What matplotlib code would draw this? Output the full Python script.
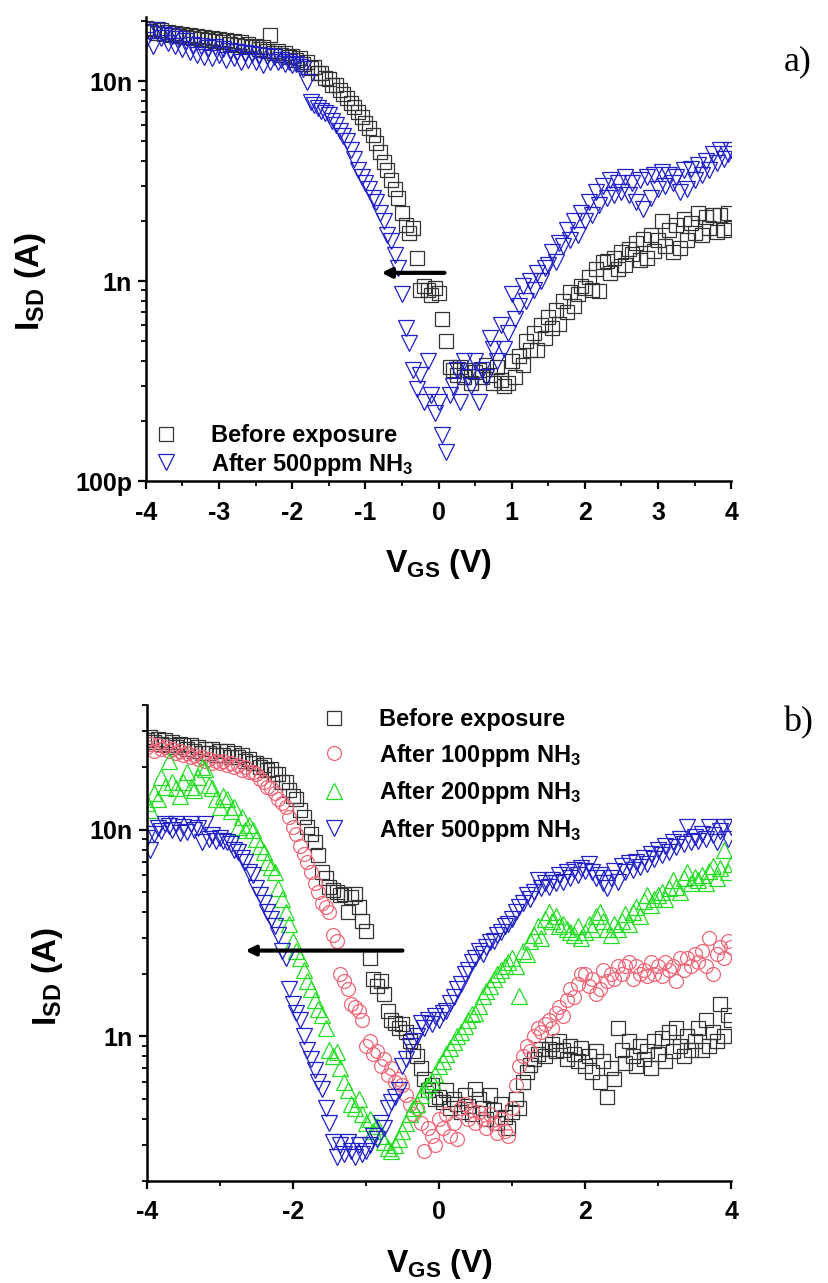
import numpy as np
import matplotlib
matplotlib.use("Agg")
import matplotlib.pyplot as plt
from matplotlib.ticker import FixedLocator, LogLocator, NullFormatter, MultipleLocator

plt.rcParams['font.family'] = ['Liberation Sans', 'DejaVu Sans']
plt.rcParams['mathtext.fontset'] = 'custom'
plt.rcParams['mathtext.rm'] = 'Liberation Sans:bold'
plt.rcParams['mathtext.bf'] = 'Liberation Sans:bold'
plt.rcParams['mathtext.default'] = 'bf'
plt.rcParams['axes.unicode_minus'] = False

# gate voltage sweep: -4 V .. 4 V in 0.05 V steps (161 points)
v_gs = np.round(np.arange(161) * 0.05 - 4.0, 2)

# ---- panel a) source-drain current in nA, rows of 10 points (0.5 V each) ----
a_before = [
    18.5, 17.8, 18.2, 17.5, 18.0, 17.2, 17.6, 17.0, 17.4, 16.8,   # -4.0
    17.2, 16.6, 17.0, 16.5, 16.8, 16.2, 16.6, 16.0, 16.4, 15.8,   # -3.5
    16.2, 15.6, 16.0, 15.4, 15.8, 15.2, 15.6, 15.0, 15.4, 14.8,   # -3.0
    15.0, 14.5, 14.8, 14.2, 17.0, 13.8, 14.2, 13.5, 13.8, 13.2,   # -2.5
    13.4, 12.8, 13.0, 12.2, 12.4, 11.6, 11.8, 11.0, 11.0, 10.4,   # -2.0
    10.2, 9.6, 9.6, 9.0, 8.6, 8.2, 7.8, 7.4, 7.0, 6.6,            # -1.5
    6.2, 5.8, 5.4, 4.9, 4.4, 3.95, 3.6, 3.2, 2.9, 2.6,            # -1.0
    2.2, 1.9, 1.75, 1.85, 1.3, 0.9, 0.95, 0.9, 0.85, 0.92,        # -0.5
    0.87, 0.65, 0.50, 0.37, 0.36, 0.34, 0.37, 0.33, 0.36, 0.31,   # 0.0
    0.35, 0.36, 0.33, 0.38, 0.34, 0.31, 0.37, 0.32, 0.30, 0.31,   # 0.5
    0.40, 0.33, 0.42, 0.38, 0.50, 0.45, 0.55, 0.45, 0.60, 0.52,   # 1.0
    0.66, 0.58, 0.72, 0.61, 0.80, 0.70, 0.88, 0.75, 0.86, 0.95,   # 1.5
    0.92, 1.05, 0.90, 1.15, 0.89, 1.25, 1.26, 1.10, 1.30, 1.15,   # 2.0
    1.40, 1.20, 1.45, 1.36, 1.55, 1.28, 1.62, 1.30, 1.70, 1.42,   # 2.5
    1.60, 2.00, 1.50, 1.80, 1.40, 1.90, 1.46, 2.05, 1.60, 1.95,   # 3.0
    1.75, 2.20, 1.70, 2.10, 1.85, 2.15, 1.77, 2.15, 1.80, 2.20,   # 3.5
    1.85]
a_after500 = [
    16.0, 17.5, 15.0, 18.0, 16.5, 17.0, 15.5, 16.8, 15.0, 16.2,
    14.5, 15.8, 14.0, 15.2, 13.5, 15.0, 13.2, 14.6, 13.0, 14.8,
    13.5, 14.4, 12.8, 14.2, 13.0, 14.0, 12.5, 13.8, 12.8, 13.6,
    12.4, 13.5, 12.0, 13.4, 12.5, 13.2, 12.4, 12.8, 12.2, 12.4,
    12.0, 12.2, 11.8, 11.5, 9.9, 7.9, 7.6, 7.3, 7.1, 6.9,
    6.8, 6.3, 6.0, 5.6, 5.3, 5.0, 4.5, 4.1, 3.6, 3.3,
    3.1, 2.9, 2.6, 2.5, 2.2, 2.0, 1.7, 1.58, 1.35, 1.16,
    0.86, 0.58, 0.49, 0.36, 0.29, 0.34, 0.25, 0.40, 0.27, 0.22,
    0.25, 0.17, 0.14, 0.27, 0.30, 0.36, 0.25, 0.40, 0.33, 0.30,
    0.40, 0.25, 0.36, 0.33, 0.52, 0.46, 0.40, 0.60, 0.46, 0.55,
    0.86, 0.65, 0.75, 0.95, 0.80, 1.00, 0.90, 1.10, 1.00, 1.16,
    1.20, 1.40, 1.25, 1.55, 1.50, 1.80, 1.60, 2.00, 1.71, 2.20,
    2.00, 2.50, 2.15, 2.80, 2.40, 3.00, 2.60, 3.20, 2.70, 3.10,
    2.80, 3.30, 2.70, 3.10, 2.50, 3.20, 2.30, 3.30, 2.60, 3.40,
    2.90, 3.50, 3.00, 3.40, 3.10, 3.30, 2.80, 3.60, 2.90, 3.65,
    3.20, 3.80, 3.40, 4.00, 3.60, 4.30, 3.90, 4.50, 4.10, 4.30,
    4.5]

# ---- panel b) ----
b_before = [
    27, 28, 26.5, 27.5, 26, 27, 25.5, 26.5, 25, 26,
    25.5, 24.5, 25.5, 24, 25, 23.5, 24.5, 23.5, 24.5, 23,
    24, 23, 24, 22.5, 23.5, 22.5, 23, 21.5, 22, 21,
    21, 20, 20.5, 19.5, 19.7, 18.5, 18.5, 17, 17, 15.5,
    14.6, 14, 12.5, 11.5, 10.3, 9.5, 8.7, 7.5, 6.2, 5.8,
    5.3, 5.1, 5.0, 4.8, 4.9, 4.0, 4.7, 4.9, 4.2, 3.6,
    3.25, 2.4, 1.9, 1.75, 1.86, 1.6, 1.32, 1.2, 1.16, 1.1,
    1.15, 1.05, 0.95, 0.85, 0.8, 0.7, 0.62, 0.55, 0.58, 0.5,
    0.51, 0.48, 0.55, 0.45, 0.5, 0.47, 0.43, 0.52, 0.46, 0.42,
    0.56, 0.5, 0.45, 0.4, 0.52, 0.44, 0.38, 0.47, 0.41, 0.36,
    0.43, 0.5, 0.45, 0.6, 0.67, 0.73, 0.78, 0.82, 0.87, 0.8,
    0.87, 0.92, 0.85, 0.95, 0.86, 0.78, 0.9, 0.82, 0.76, 0.88,
    0.72, 0.8, 0.67, 0.85, 0.6, 0.76, 0.51, 0.7, 0.62, 1.1,
    0.86, 0.74, 0.95, 0.8, 0.72, 0.9, 0.78, 0.85, 0.7, 0.95,
    0.82, 0.98, 0.76, 1.05, 0.85, 1.1, 0.9, 0.8, 1.0, 0.86,
    0.95, 1.1, 0.86, 1.2, 0.9, 1.05, 0.95, 1.44, 1.0, 1.27,
    1.2]
b_after100 = [
    25, 26, 24, 25.5, 24.5, 25, 24, 24.5, 23.5, 24,
    23, 23.5, 22.5, 23, 22, 22.5, 21.5, 22, 21, 21.5,
    21, 21.5, 20.5, 21, 20, 20.5, 19.5, 20, 19, 19,
    18.5, 17.5, 17, 16, 15.9, 15, 14, 13.5, 12.8, 11.5,
    10.3, 9.5, 8.3, 7.6, 7.0, 6.2, 5.5, 5.0, 4.4, 4.2,
    4.0, 3.1, 2.9, 2.0, 1.86, 1.7, 1.44, 1.38, 1.32, 1.2,
    0.9, 0.95, 0.82, 0.85, 0.72, 0.78, 0.65, 0.7, 0.6, 0.62,
    0.58, 0.52, 0.47, 0.42, 0.45, 0.38, 0.28, 0.36, 0.33, 0.3,
    0.40, 0.36, 0.42, 0.33, 0.38, 0.32, 0.45, 0.47, 0.40, 0.44,
    0.38, 0.43, 0.40, 0.36, 0.42, 0.38, 0.34, 0.40, 0.35, 0.33,
    0.45, 0.58, 0.72, 0.80, 0.90, 0.85, 1.0, 1.1, 1.05, 1.15,
    1.2, 1.1, 1.3, 1.38, 1.25, 1.5, 1.7, 1.55, 1.8, 2.0,
    2.0, 1.75, 1.9, 1.6, 1.7, 2.1, 1.85, 2.0, 1.9, 2.2,
    2.0, 2.2, 2.3, 1.9, 2.2, 2.0, 2.1, 1.95, 2.3, 2.0,
    2.2, 1.95, 2.3, 2.1, 2.2, 1.86, 2.4, 2.1, 2.4, 2.2,
    2.5, 2.3, 2.6, 2.2, 3.0, 2.0, 2.5, 2.7, 2.4, 2.9,
    2.7]
b_after200 = [
    13.4, 12.5, 15, 14, 18, 16, 21.5, 17, 15.9, 14.5,
    17, 19, 16, 15.5, 18, 20, 19.7, 16.5, 15.9, 14,
    12.8, 14.5, 14.0, 12.3, 12.8, 10.3, 11.5, 10.0, 10.5, 9.9,
    9.0, 8.3, 7.8, 7.0, 6.6, 6.2, 5.2, 4.6, 4.0, 3.5,
    2.9, 2.6, 2.4, 2.1, 1.86, 1.7, 1.5, 1.35, 1.27, 1.1,
    0.86, 0.8, 0.84, 0.7, 0.6, 0.55, 0.47, 0.45, 0.5, 0.42,
    0.38, 0.4, 0.35, 0.37, 0.33, 0.31, 0.29, 0.28, 0.3, 0.32,
    0.35, 0.38, 0.42, 0.45, 0.47, 0.52, 0.56, 0.58, 0.61, 0.66,
    0.72, 0.76, 0.82, 0.88, 0.94, 1.0, 1.05, 1.12, 1.2, 1.28,
    1.3, 1.4, 1.57, 1.65, 1.75, 1.9, 2.0, 2.1, 2.2, 2.3,
    2.4, 2.2, 1.57, 2.6, 2.5, 2.9, 3.1, 3.4, 3.0, 3.7,
    4.0, 3.6, 3.8, 3.4, 3.5, 3.3, 3.2, 3.1, 3.4, 3.0,
    3.2, 3.5, 3.3, 3.8, 4.0, 3.6, 3.3, 3.1, 3.5, 3.3,
    3.6, 3.9, 3.5, 4.0, 4.2, 3.8, 4.5, 4.8, 4.3, 4.6,
    4.8, 5.0, 4.6, 5.2, 5.7, 5.3, 5.0, 5.8, 6.2, 5.5,
    5.9, 5.7, 6.0, 5.5, 6.3, 6.7, 5.8, 6.5, 8.0, 6.2,
    6.8]
b_after500 = [
    9.1, 8.0, 9.5, 10.2, 9.8, 10.6, 10.4, 10.0, 10.6, 9.6,
    10.3, 9.7, 10.6, 9.9, 10.2, 8.7, 10.6, 9.0, 9.4, 8.8,
    9.1, 8.8, 8.7, 8.5, 8.0, 7.8, 7.3, 7.0, 6.2, 6.0,
    5.2, 4.8, 4.4, 4.0, 3.7, 3.4, 3.1, 2.6, 2.4, 1.7,
    1.44, 1.3, 1.2, 1.0, 0.86, 0.78, 0.69, 0.6, 0.56, 0.45,
    0.38, 0.31, 0.26, 0.3, 0.27, 0.31, 0.28, 0.26, 0.3, 0.27,
    0.28, 0.3, 0.33, 0.32, 0.38, 0.36, 0.45, 0.48, 0.51, 0.55,
    0.72, 0.78, 0.9, 0.95, 1.0, 1.16, 1.1, 1.2, 1.15, 1.25,
    1.2, 1.3, 1.32, 1.45, 1.55, 1.7, 1.8, 2.0, 2.1, 2.3,
    2.4, 2.6, 2.5, 2.7, 2.85, 2.9, 3.1, 3.2, 3.4, 3.5,
    3.7, 4.0, 4.2, 4.4, 4.8, 4.6, 5.0, 5.7, 5.2, 5.5,
    5.3, 5.7, 5.5, 6.0, 5.6, 6.2, 5.8, 6.4, 6.0, 6.5,
    6.3, 6.8, 6.2, 5.8, 6.0, 5.5, 5.2, 5.8, 6.3, 5.6,
    6.7, 6.2, 6.9, 6.4, 7.0, 6.6, 7.3, 6.8, 7.6, 7.2,
    8.0, 7.5, 8.3, 7.8, 8.7, 8.2, 9.0, 8.5, 10.3, 8.7,
    9.2, 8.8, 9.5, 9.0, 10.3, 9.4, 8.7, 9.8, 10.3, 9.0,
    10.3]

for s in (a_before, a_after500, b_before, b_after100, b_after200, b_after500):
    assert len(s) == len(v_gs)

# arrows (V start, V end, current level)
arrow_a = (0.08, -0.78, 1.1e-9)
arrow_b = (-0.5, -2.65, 2.6e-9)

fig = plt.figure(figsize=(8.29, 12.83), dpi=100)
ax1 = fig.add_axes([0.176, 0.625, 0.706, 0.362])
ax2 = fig.add_axes([0.177, 0.0795, 0.705, 0.371])

nA = 1e-9
sty = dict(linestyle='none', markerfacecolor='none', markeredgewidth=0.9)

ax1.plot(v_gs, np.array(a_before) * nA, marker='s', ms=10, color='#333333',
         label='Before exposure', **sty)
ax1.plot(v_gs, np.array(a_after500) * nA, marker='v', ms=11.5, color='#2020c8',
         label='After 500ppm NH$_3$', **sty)

ax2.plot(v_gs, np.array(b_before) * nA, marker='s', ms=10, color='#333333',
         label='Before exposure', **sty)
ax2.plot(v_gs, np.array(b_after100) * nA, marker='o', ms=10, color='#ee6677',
         label='After 100ppm NH$_3$', **sty)
ax2.plot(v_gs, np.array(b_after200) * nA, marker='^', ms=11.5, color='#22dd22',
         label='After 200ppm NH$_3$', **sty)
ax2.plot(v_gs, np.array(b_after500) * nA, marker='v', ms=11.5, color='#2020c8',
         label='After 500ppm NH$_3$', **sty)

for ax, arr in ((ax1, arrow_a), (ax2, arrow_b)):
    ax.annotate('', xy=(arr[1], arr[2]), xytext=(arr[0], arr[2]),
                arrowprops=dict(arrowstyle='-|>', lw=3, color='black',
                                mutation_scale=14, shrinkA=0, shrinkB=0))

def style(ax, ylim, yticks, ylabels, xmajor, xminor, ylab_x):
    ax.set_yscale('log')
    ax.set_xlim(-4, 4)
    ax.set_ylim(*ylim)
    ax.yaxis.set_major_locator(FixedLocator(yticks))
    ax.set_yticklabels(ylabels)
    ax.yaxis.set_minor_locator(LogLocator(base=10, subs=np.arange(2, 10)))
    ax.yaxis.set_minor_formatter(NullFormatter())
    ax.xaxis.set_major_locator(MultipleLocator(xmajor))
    ax.xaxis.set_minor_locator(MultipleLocator(xminor))
    for sp in ('top', 'right'):
        ax.spines[sp].set_visible(False)
    for sp in ('left', 'bottom'):
        ax.spines[sp].set_linewidth(1.8)
    ax.tick_params(which='major', length=6, width=1.6, labelsize=18, pad=4)
    ax.tick_params(axis='x', which='major', pad=8)
    ax.tick_params(which='minor', length=3.5, width=1.3)
    for lab in ax.get_xticklabels() + ax.get_yticklabels():
        lab.set_fontweight('bold')
    ax.set_xlabel('V$_{GS}$ (V)', fontsize=23, fontweight='bold', labelpad=16)
    ax.set_ylabel('I$_{SD}$ (A)', fontsize=24, fontweight='bold')
    ax.yaxis.set_label_coords(ylab_x, 0.43)

style(ax1, (1e-10, 2.1e-8), [1e-10, 1e-9, 1e-8], ['100p', '1n', '10n'], 1, 0.5, -0.168)
style(ax2, (2e-10, 4e-8), [1e-9, 1e-8], ['1n', '10n'], 2, 1, -0.14)

leg_font = {'weight': 'bold', 'size': 17}
ax1.legend(loc='upper left', bbox_to_anchor=(0.015, 0.123), frameon=False,
           prop=leg_font, handlelength=1.0, handletextpad=1.4,
           labelspacing=0.15, borderpad=0, borderaxespad=0)
ax2.legend(loc='upper left', bbox_to_anchor=(0.30, 0.993), frameon=False,
           prop=leg_font, handlelength=1.0, handletextpad=1.4,
           labelspacing=0.44, borderpad=0, borderaxespad=0)

fig.text(0.945, 0.952, 'a)', fontsize=26, family='Liberation Serif', va='center')
fig.text(0.945, 0.437, 'b)', fontsize=26, family='Liberation Serif', va='center')

fig.savefig('out.png', dpi=100)
